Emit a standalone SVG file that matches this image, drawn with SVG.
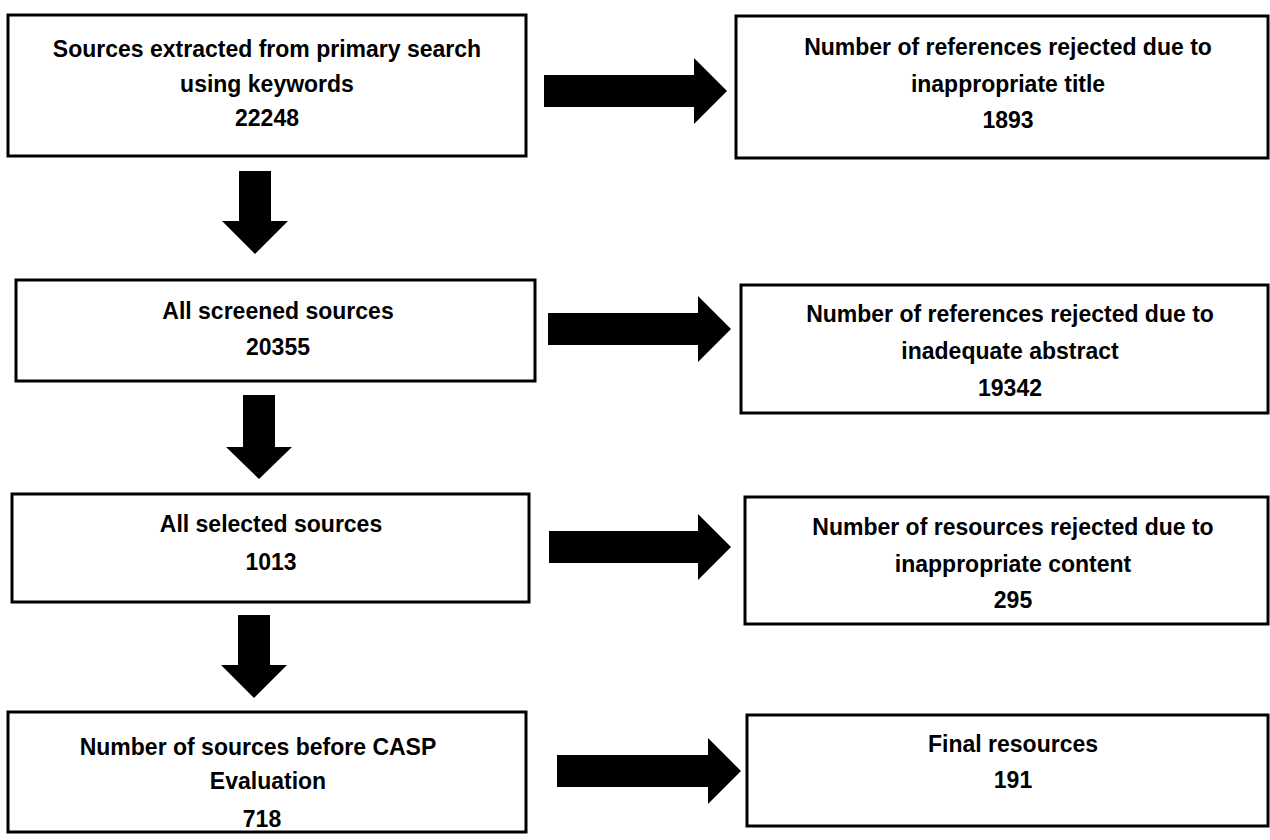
<svg xmlns="http://www.w3.org/2000/svg" width="1270" height="840" viewBox="0 0 1270 840">
<style>
.box{fill:#fff;stroke:#000;stroke-width:3}
.t{font-family:"Liberation Sans",Arial,sans-serif;font-weight:bold;font-size:23px;fill:#000;text-anchor:middle}
.arr{fill:#000;stroke:none}
</style>
<rect width="1270" height="840" fill="#fff"/>
<g id="connectors">
<path class="arr" d="M544,75 H694 V58 L727,91 L694,124 V107 H544 Z"/>
<path class="arr" d="M548,313 H698 V296 L731,329 L698,362 V345 H548 Z"/>
<path class="arr" d="M549,531 H698 V514 L731,547 L698,580 V563 H549 Z"/>
<path class="arr" d="M557,755 H708 V738 L741,771 L708,804 V787 H557 Z"/>
<path class="arr" d="M239,171 H271 V221 H288 L255,254 L222,221 H239 Z"/>
<path class="arr" d="M243,395 H275 V447 H292 L259,479 L226,447 H243 Z"/>
<path class="arr" d="M238,615 H270 V665 H287 L254,698 L221,665 H238 Z"/>
</g>
<g id="n1">
<rect class="box" x="8" y="15" width="518" height="141"/>
<text class="t" x="267" y="57">Sources extracted from primary search</text>
<text class="t" x="267" y="92">using keywords</text>
<text class="t" x="267" y="126">22248</text>
</g>
<g id="r1">
<rect class="box" x="736" y="16" width="532" height="142"/>
<text class="t" x="1008" y="55">Number of references rejected due to</text>
<text class="t" x="1008" y="92">inappropriate title</text>
<text class="t" x="1008" y="128">1893</text>
</g>
<g id="n2">
<rect class="box" x="16" y="280" width="519" height="101"/>
<text class="t" x="278" y="319">All screened sources</text>
<text class="t" x="278" y="355">20355</text>
</g>
<g id="r2">
<rect class="box" x="741" y="285" width="527" height="128"/>
<text class="t" x="1010" y="322">Number of references rejected due to</text>
<text class="t" x="1010" y="359">inadequate abstract</text>
<text class="t" x="1010" y="396">19342</text>
</g>
<g id="n3">
<rect class="box" x="12" y="494" width="517" height="108"/>
<text class="t" x="271" y="532">All selected sources</text>
<text class="t" x="271" y="570">1013</text>
</g>
<g id="r3">
<rect class="box" x="745" y="497" width="523" height="127"/>
<text class="t" x="1013" y="535">Number of resources rejected due to</text>
<text class="t" x="1013" y="572">inappropriate content</text>
<text class="t" x="1013" y="608">295</text>
</g>
<g id="n4">
<rect class="box" x="8" y="712" width="518" height="120"/>
<text class="t" x="258" y="755">Number of sources before CASP</text>
<text class="t" x="268" y="789">Evaluation</text>
<text class="t" x="262" y="827">718</text>
</g>
<g id="r4">
<rect class="box" x="747" y="715" width="521" height="111"/>
<text class="t" x="1013" y="752">Final resources</text>
<text class="t" x="1013" y="788">191</text>
</g>
</svg>
